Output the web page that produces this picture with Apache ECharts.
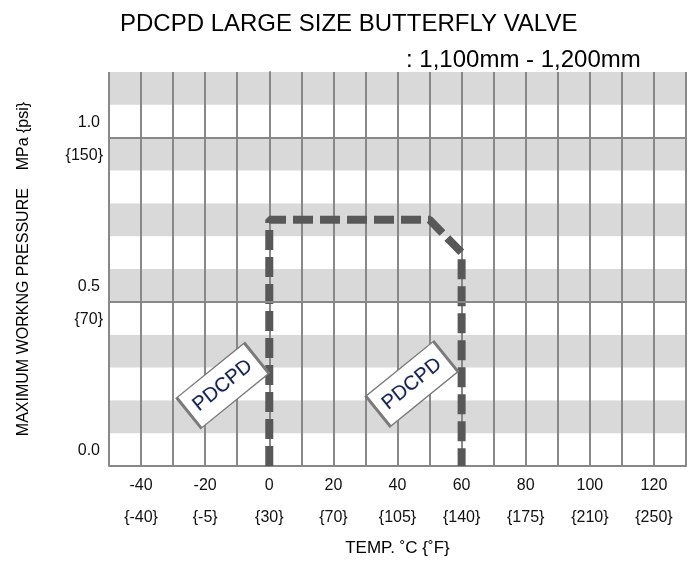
<!DOCTYPE html>
<html>
<head>
<meta charset="utf-8">
<script src="https://cdn.jsdelivr.net/npm/echarts@6/dist/echarts.min.js"></script>
<style>
    html, body { margin: 0; padding: 0; background: #fff; }
    #chart { width: 689px; height: 565px; }
</style>
</head>
<body>
<div id="chart"></div>
<script>
    // tick labels
    const tempTicks = [-40, -20, 0, 20, 40, 60, 80, 100, 120];
    const fahrenheitTicks = ['{-40}', '{-5}', '{30}', '{70}', '{105}', '{140}', '{175}', '{210}', '{250}'];
    const mpaTicks = [0, 0.5, 1.0];
    const mpaLabels = ['0.0', '0.5', '1.0'];
    const psiLabels = ['', '{70}', '{150}'];

    // pressure / temperature envelope (dashed line)
    const envTemp = [0, 0, 50, 60, 60];
    const envPressure = [0, 0.75, 0.75, 0.65, 0];

    // PDCPD tags
    const tagNames = ['PDCPD', 'PDCPD'];
    const tagTemp = [-14.5, 44.5];
    const tagPressure = [0.245, 0.25];

    const gridGray = '#888';
    const font = 'Liberation Sans, Arial, sans-serif';

    function tickIndex(v, list) {
        for (let i = 0; i < list.length; i++) {
            if (Math.abs(list[i] - v) < 1e-6) return i;
        }
        return -1;
    }

    let myChart = echarts.init(document.getElementById('chart'));
    let option = {
        animation: false,
        textStyle: {fontFamily: font},
        title: [
            {
                text: 'PDCPD LARGE SIZE BUTTERFLY VALVE',
                left: 115,
                top: 7,
                textStyle: {fontSize: 24, fontWeight: 'normal', color: '#000', fontFamily: font}
            },
            {
                text: ': 1,100mm - 1,200mm',
                left: 401,
                top: 43,
                textStyle: {fontSize: 24, fontWeight: 'normal', color: '#000', fontFamily: font}
            }
        ],
        grid: {left: 109, right: 0, top: 72, bottom: 99},
        xAxis: {
            type: 'value',
            min: -50,
            max: 130,
            interval: 10,
            name: 'TEMP. ˚C {˚F}',
            nameLocation: 'middle',
            nameGap: 74,
            nameTextStyle: {fontSize: 17, color: '#000'},
            axisLine: {show: true, lineStyle: {color: gridGray, width: 2}},
            axisTick: {show: false},
            splitLine: {show: true, lineStyle: {color: gridGray, width: 2}},
            axisLabel: {
                fontSize: 16,
                color: '#111',
                lineHeight: 32,
                margin: 4,
                formatter: function (v) {
                    let i = tickIndex(v, tempTicks);
                    return i < 0 ? '' : tempTicks[i] + '\n' + fahrenheitTicks[i];
                }
            }
        },
        yAxis: [
            {
                type: 'value',
                min: 0,
                max: 1.2,
                interval: 0.1,
                name: 'MAXIMUM WORKNG PRESSURE    MPa {psi}',
                nameLocation: 'middle',
                nameGap: 77,
                nameTextStyle: {fontSize: 16, color: '#000'},
                axisLine: {show: true, lineStyle: {color: gridGray, width: 2}},
                axisTick: {show: false},
                splitLine: {show: false},
                splitArea: {show: true, areaStyle: {color: ['#ffffff', '#d9d9d9']}},
                axisLabel: {
                    fontSize: 16,
                    color: '#111',
                    margin: 9,
                    verticalAlign: 'bottom',
                    lineHeight: 30,
                    formatter: function (v) {
                        let i = tickIndex(v, mpaTicks);
                        return i < 0 ? '' : mpaLabels[i];
                    }
                }
            },
            {
                type: 'value',
                position: 'left',
                min: 0,
                max: 1.2,
                interval: 0.1,
                axisLine: {show: false},
                axisTick: {show: false},
                splitLine: {show: false},
                axisLabel: {
                    fontSize: 16,
                    color: '#111',
                    margin: 6,
                    verticalAlign: 'top',
                    lineHeight: 36,
                    formatter: function (v) {
                        let i = tickIndex(v, mpaTicks);
                        return i < 0 ? '' : psiLabels[i];
                    }
                }
            }
        ],
        series: [
            {
                // darker rules at the labelled pressures
                type: 'line',
                data: [],
                silent: true,
                z: 1,
                markLine: {
                    silent: true,
                    symbol: 'none',
                    label: {show: false},
                    lineStyle: {color: gridGray, width: 2, type: 'solid'},
                    data: mpaTicks.filter(v => v > 0).map(v => ({yAxis: v}))
                }
            },
            {
                name: 'envelope',
                type: 'line',
                data: envTemp.map((t, i) => [t, envPressure[i]]),
                symbol: 'none',
                z: 3,
                lineStyle: {color: '#585858', width: 8, type: [20, 7], cap: 'butt'}
            },
            {
                name: 'tags',
                type: 'scatter',
                z: 5,
                symbol: 'rect',
                symbolSize: [87, 39],
                symbolRotate: 39,
                itemStyle: {color: '#fff', borderColor: '#7a7a7a', borderWidth: 2, opacity: 1},
                label: {
                    show: true,
                    position: 'inside',
                    rotate: 39,
                    fontSize: 20,
                    color: '#1a2142',
                    textShadowColor: 'rgba(70,130,255,0.45)',
                    textShadowBlur: 1,
                    textShadowOffsetX: -0.5,
                    formatter: function (p) {
                        return tagNames[p.dataIndex];
                    }
                },
                data: tagTemp.map((t, i) => [t, tagPressure[i]])
            }
        ]
    };
    myChart.setOption(option);
</script>
</body>
</html>
